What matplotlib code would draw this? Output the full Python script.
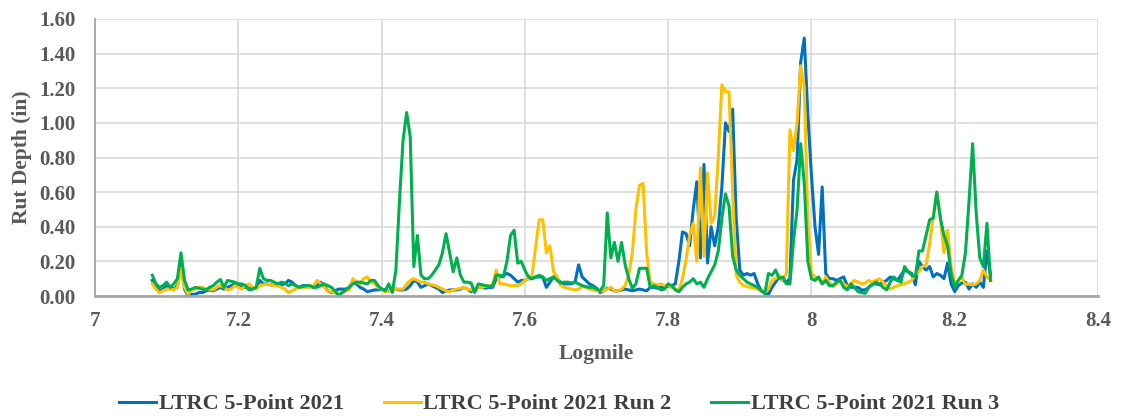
import numpy as np
import matplotlib
matplotlib.use("Agg")
import matplotlib.pyplot as plt

# Logmile grid (every 0.005 mile)
logmile = np.round(np.arange(7.080, 8.2501, 0.005), 3)

rut_2021 = [
    0.09, 0.05, 0.03, 0.04, 0.06, 0.05, 0.04, 0.06, 0.18, 0.04,
    0.00, 0.01, 0.01, 0.02, 0.02, 0.03, 0.035, 0.03, 0.04, 0.05,
    0.04, 0.05, 0.06, 0.07, 0.06, 0.05, 0.05, 0.045, 0.04, 0.05,
    0.09, 0.07, 0.07, 0.065, 0.06, 0.06, 0.065, 0.07, 0.09, 0.08,
    0.06, 0.05, 0.06, 0.06, 0.055, 0.05, 0.06, 0.08, 0.06, 0.03,
    0.02, 0.03, 0.04, 0.04, 0.04, 0.05, 0.09, 0.07, 0.05, 0.04,
    0.025, 0.03, 0.035, 0.035, 0.04, 0.035, 0.03, 0.035, 0.04, 0.035,
    0.035, 0.04, 0.06, 0.09, 0.08, 0.05, 0.06, 0.07, 0.06, 0.05,
    0.04, 0.02, 0.03, 0.035, 0.035, 0.035, 0.04, 0.05, 0.04, 0.025,
    0.04, 0.05, 0.05, 0.045, 0.05, 0.05, 0.10, 0.11, 0.12, 0.13,
    0.12, 0.10, 0.08, 0.09, 0.09, 0.10, 0.10, 0.11, 0.11, 0.11,
    0.05, 0.08, 0.11, 0.10, 0.08, 0.07, 0.07, 0.07, 0.08, 0.18,
    0.11, 0.09, 0.07, 0.06, 0.045, 0.02, 0.03, 0.045, 0.04, 0.03,
    0.03, 0.035, 0.04, 0.035, 0.03, 0.035, 0.04, 0.035, 0.03, 0.05,
    0.05, 0.045, 0.05, 0.055, 0.055, 0.06, 0.07, 0.20, 0.37, 0.36,
    0.29, 0.50, 0.66, 0.22, 0.76, 0.19, 0.40, 0.29, 0.40, 0.63,
    1.00, 0.95, 1.08, 0.45, 0.15, 0.12, 0.13, 0.12, 0.13, 0.07,
    0.03, 0.015, 0.01, 0.05, 0.08, 0.11, 0.09, 0.08, 0.10, 0.67,
    0.79, 1.35, 1.49, 1.05, 0.70, 0.40, 0.24, 0.63, 0.13, 0.10,
    0.10, 0.09, 0.10, 0.11, 0.06, 0.05, 0.05, 0.05, 0.035, 0.035,
    0.05, 0.07, 0.07, 0.065, 0.08, 0.09, 0.11, 0.10, 0.09, 0.12,
    0.15, 0.14, 0.13, 0.065, 0.20, 0.17, 0.15, 0.17, 0.11, 0.13,
    0.12, 0.10, 0.19, 0.07, 0.025, 0.06, 0.075, 0.08, 0.04, 0.07,
    0.05, 0.08, 0.05, 0.26, 0.12,
]

rut_run2 = [
    0.07, 0.04, 0.02, 0.03, 0.04, 0.04, 0.035, 0.05, 0.16, 0.05,
    0.01, 0.035, 0.04, 0.05, 0.05, 0.04, 0.04, 0.035, 0.05, 0.06,
    0.05, 0.035, 0.04, 0.06, 0.05, 0.04, 0.06, 0.07, 0.05, 0.04,
    0.06, 0.065, 0.07, 0.065, 0.06, 0.06, 0.05, 0.04, 0.02, 0.03,
    0.04, 0.05, 0.05, 0.05, 0.05, 0.06, 0.09, 0.07, 0.05, 0.03,
    0.025, 0.02, 0.015, 0.02, 0.03, 0.035, 0.10, 0.08, 0.07, 0.10,
    0.11, 0.08, 0.07, 0.05, 0.04, 0.025, 0.03, 0.035, 0.04, 0.04,
    0.04, 0.07, 0.09, 0.10, 0.09, 0.08, 0.08, 0.07, 0.065, 0.06,
    0.05, 0.04, 0.03, 0.025, 0.035, 0.04, 0.045, 0.05, 0.04, 0.035,
    0.04, 0.05, 0.05, 0.055, 0.06, 0.06, 0.15, 0.07, 0.07, 0.065,
    0.06, 0.06, 0.06, 0.07, 0.09, 0.10, 0.12, 0.28, 0.44, 0.44,
    0.25, 0.29, 0.14, 0.11, 0.06, 0.05, 0.045, 0.04, 0.035, 0.04,
    0.055, 0.05, 0.04, 0.035, 0.03, 0.03, 0.03, 0.04, 0.05, 0.03,
    0.03, 0.04, 0.06, 0.12, 0.25, 0.50, 0.64, 0.65, 0.25, 0.08,
    0.07, 0.065, 0.07, 0.06, 0.06, 0.05, 0.04, 0.035, 0.10, 0.21,
    0.35, 0.42, 0.20, 0.74, 0.23, 0.71, 0.42, 0.46, 0.80, 1.22,
    1.18, 1.18, 0.60, 0.12, 0.08, 0.06, 0.055, 0.05, 0.045, 0.04,
    0.03, 0.02, 0.04, 0.09, 0.10, 0.12, 0.09, 0.13, 0.96, 0.84,
    1.00, 1.33, 1.21, 0.44, 0.13, 0.11, 0.10, 0.07, 0.11, 0.08,
    0.054, 0.07, 0.09, 0.07, 0.054, 0.07, 0.09, 0.08, 0.07, 0.075,
    0.09, 0.08, 0.09, 0.10, 0.08, 0.06, 0.04, 0.05, 0.06, 0.065,
    0.07, 0.08, 0.09, 0.12, 0.14, 0.17, 0.18, 0.30, 0.46, 0.60,
    0.45, 0.25, 0.38, 0.17, 0.07, 0.09, 0.11, 0.065, 0.07, 0.065,
    0.07, 0.09, 0.15, 0.11, 0.09,
]

rut_run3 = [
    0.12, 0.07, 0.05, 0.06, 0.08, 0.05, 0.07, 0.10, 0.25, 0.09,
    0.035, 0.04, 0.05, 0.045, 0.04, 0.035, 0.05, 0.06, 0.08, 0.095,
    0.05, 0.09, 0.085, 0.08, 0.07, 0.07, 0.06, 0.035, 0.04, 0.05,
    0.16, 0.10, 0.09, 0.09, 0.08, 0.07, 0.08, 0.075, 0.06, 0.07,
    0.06, 0.05, 0.055, 0.06, 0.06, 0.05, 0.05, 0.06, 0.07, 0.06,
    0.05, 0.03, 0.00, 0.02, 0.035, 0.05, 0.07, 0.08, 0.08, 0.075,
    0.07, 0.09, 0.09, 0.06, 0.04, 0.03, 0.07, 0.02, 0.15, 0.55,
    0.90, 1.06, 0.92, 0.17, 0.35, 0.12, 0.10, 0.10, 0.12, 0.15,
    0.18, 0.25, 0.36, 0.25, 0.14, 0.22, 0.12, 0.08, 0.08, 0.075,
    0.02, 0.07, 0.065, 0.06, 0.055, 0.06, 0.12, 0.12, 0.11, 0.20,
    0.35, 0.38, 0.19, 0.20, 0.15, 0.11, 0.10, 0.11, 0.12, 0.11,
    0.09, 0.10, 0.11, 0.09, 0.075, 0.08, 0.08, 0.075, 0.08, 0.07,
    0.06, 0.054, 0.05, 0.05, 0.04, 0.03, 0.06, 0.48, 0.22, 0.31,
    0.20, 0.31, 0.18, 0.10, 0.045, 0.07, 0.16, 0.16, 0.16, 0.05,
    0.06, 0.05, 0.035, 0.04, 0.07, 0.06, 0.035, 0.025, 0.05, 0.07,
    0.08, 0.10, 0.07, 0.08, 0.05, 0.10, 0.14, 0.18, 0.26, 0.45,
    0.59, 0.52, 0.23, 0.15, 0.12, 0.10, 0.08, 0.07, 0.06, 0.05,
    0.03, 0.015, 0.13, 0.12, 0.15, 0.10, 0.11, 0.07, 0.07, 0.32,
    0.50, 0.88, 0.65, 0.20, 0.10, 0.09, 0.11, 0.07, 0.09, 0.06,
    0.06, 0.08, 0.09, 0.05, 0.035, 0.07, 0.05, 0.025, 0.02, 0.015,
    0.05, 0.065, 0.08, 0.07, 0.05, 0.035, 0.08, 0.11, 0.09, 0.08,
    0.17, 0.14, 0.12, 0.11, 0.26, 0.26, 0.35, 0.44, 0.45, 0.60,
    0.45, 0.35, 0.29, 0.13, 0.05, 0.09, 0.12, 0.25, 0.55, 0.88,
    0.48, 0.22, 0.17, 0.42, 0.09,
]

series_names = ["LTRC 5-Point 2021", "LTRC 5-Point 2021 Run 2", "LTRC 5-Point 2021 Run 3"]
series_colors = ["#0070C0", "#FFC000", "#00B050"]

x_ticks = [7.0, 7.2, 7.4, 7.6, 7.8, 8.0, 8.2, 8.4]
x_ticklabels = ["7", "7.2", "7.4", "7.6", "7.8", "8", "8.2", "8.4"]
y_ticks = [0.0, 0.2, 0.4, 0.6, 0.8, 1.0, 1.2, 1.4, 1.6]
y_ticklabels = ["0.00", "0.20", "0.40", "0.60", "0.80", "1.00", "1.20", "1.40", "1.60"]

plt.rcParams['font.family'] = ['Liberation Serif', 'DejaVu Serif']

fig = plt.figure(figsize=(11.25, 4.16), dpi=100)
ax = fig.add_axes([95/1125, 1 - 296/416, (1098 - 95)/1125, (296 - 19)/416])

for ys, name, col in zip([rut_2021, rut_run2, rut_run3], series_names, series_colors):
    ax.plot(logmile, ys, color=col, lw=2.2, label=name, solid_joinstyle='round')

ax.set_xlim(7.0, 8.4)
ax.set_ylim(0, 1.6)
ax.set_xticks(x_ticks)
ax.set_xticklabels(x_ticklabels)
ax.set_yticks(y_ticks)
ax.set_yticklabels(y_ticklabels)
ax.grid(True, color="#D9D9D9", lw=1.2)
ax.set_axisbelow(True)
ax.tick_params(length=0, labelsize=15, labelcolor="#595959")
ax.tick_params(axis='y', pad=14)
ax.tick_params(axis='x', pad=11)
for lab in ax.get_xticklabels() + ax.get_yticklabels():
    lab.set_fontweight('bold')
for s in ['top', 'right']:
    ax.spines[s].set_visible(False)
ax.spines['left'].set_color("#A6A6A6")
ax.spines['left'].set_linewidth(1.3)
ax.spines['bottom'].set_color("#A6A6A6")
ax.spines['bottom'].set_linewidth(2)

ax.set_xlabel("Logmile", fontsize=15.5, fontweight='bold', color="#595959", labelpad=9)
ax.set_ylabel("Rut Depth (in)", fontsize=15.5, fontweight='bold', color="#595959", labelpad=5)

leg = fig.legend(loc='center', bbox_to_anchor=(0.497, 1 - 404/416), ncol=3, frameon=False,
                 prop={'size': 16, 'weight': 'bold'}, handlelength=1.67, handletextpad=0.1,
                 columnspacing=1.8)
for t in leg.get_texts():
    t.set_color("#404040")

fig.savefig("out.png", dpi=100)
